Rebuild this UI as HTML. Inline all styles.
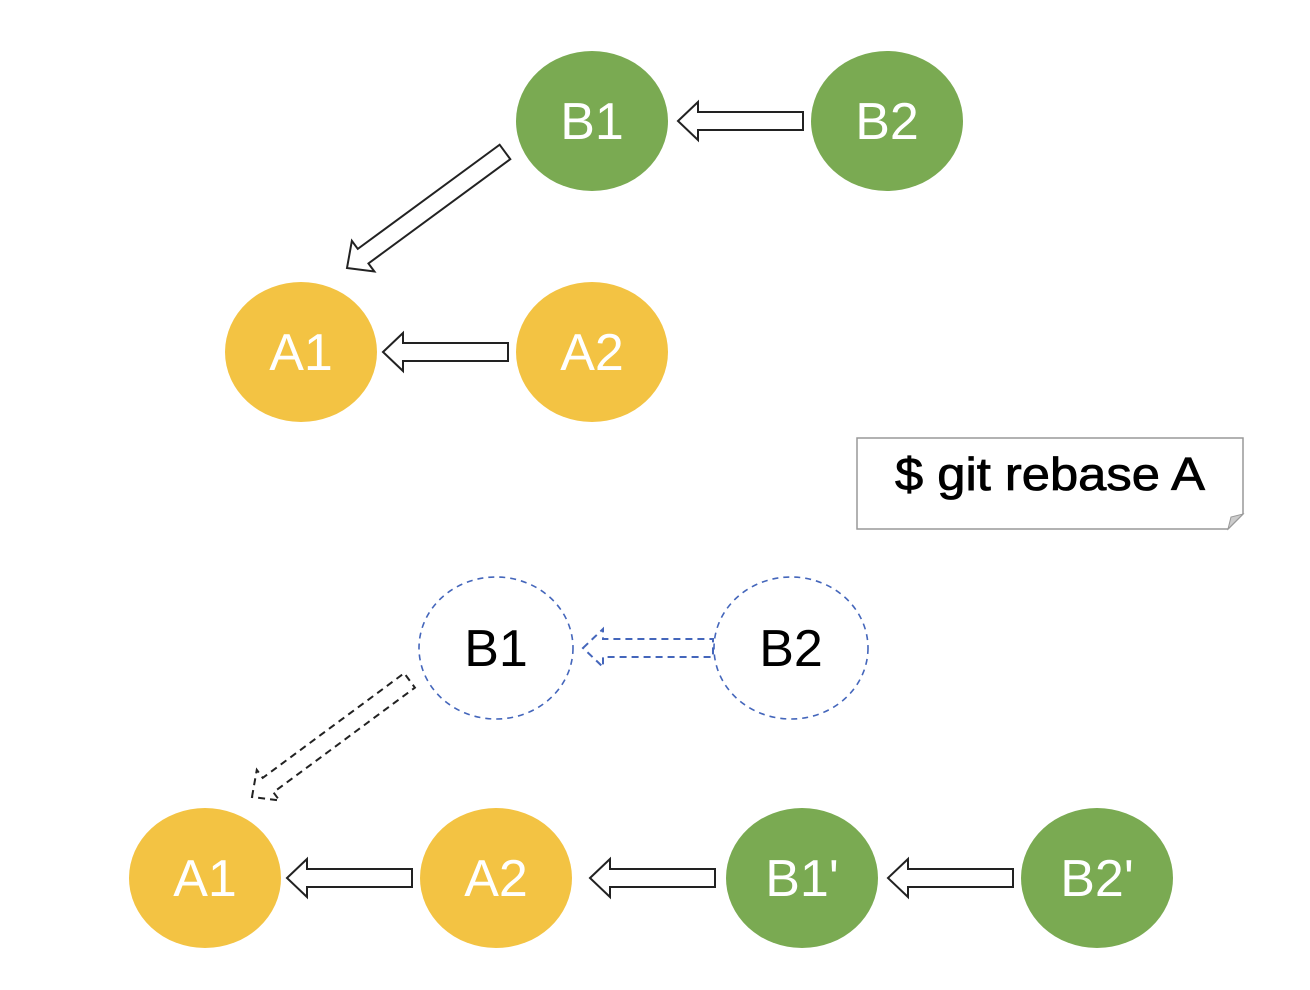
<!DOCTYPE html>
<html><head><meta charset="utf-8"><style>
html,body{margin:0;padding:0;background:#fff}
svg{display:block}
text{font-family:"Liberation Sans",sans-serif}
</style></head><body>
<svg width="1310" height="990" viewBox="0 0 1310 990" xmlns="http://www.w3.org/2000/svg">
<g fill="#fff" stroke="#222" stroke-width="2">
<polygon points="678,121 698,102 698,112 803,112 803,130 698,130 698,140"/>
<polygon points="383,352 403,333 403,343 508,343 508,361 403,361 403,371"/>
<g transform="translate(347,268) rotate(-36.3)"><polygon points="0,0 20,-19 20,-9 196,-9 196,9 20,9 20,19"/></g>
<polygon points="287,878 307,859 307,869 412,869 412,887 307,887 307,897"/>
<polygon points="590,878 610,859 610,869 715,869 715,887 610,887 610,897"/>
<polygon points="888,878 908,859 908,869 1013,869 1013,887 908,887 908,897"/>
<g transform="translate(252,797) rotate(-36.5)" stroke-dasharray="7,5"><polygon points="0,0 20,-19 20,-9 196,-9 196,9 20,9 20,19"/></g>
<polygon points="583,648 603,629 603,639 713,639 713,657 603,657 603,667" stroke="#4466bb" stroke-dasharray="7,5"/>
</g>
<ellipse cx="592" cy="121" rx="76" ry="70" fill="#7aaa52"/>
<ellipse cx="887" cy="121" rx="76" ry="70" fill="#7aaa52"/>
<ellipse cx="301" cy="352" rx="76" ry="70" fill="#f3c343"/>
<ellipse cx="592" cy="352" rx="76" ry="70" fill="#f3c343"/>
<ellipse cx="205" cy="878" rx="76" ry="70" fill="#f3c343"/>
<ellipse cx="496" cy="878" rx="76" ry="70" fill="#f3c343"/>
<ellipse cx="802" cy="878" rx="76" ry="70" fill="#7aaa52"/>
<ellipse cx="1097" cy="878" rx="76" ry="70" fill="#7aaa52"/>
<ellipse cx="496" cy="648" rx="77" ry="71" fill="#fff" stroke="#4466bb" stroke-width="1.6" stroke-dasharray="6,5"/>
<ellipse cx="791" cy="648" rx="77" ry="71" fill="#fff" stroke="#4466bb" stroke-width="1.6" stroke-dasharray="6,5"/>
<g font-size="52" text-anchor="middle" fill="#fff">
<text x="592" y="139">B1</text>
<text x="887" y="139">B2</text>
<text x="301" y="370">A1</text>
<text x="592" y="370">A2</text>
<text x="205" y="896">A1</text>
<text x="496" y="896">A2</text>
<text x="802" y="896">B1'</text>
<text x="1097" y="896">B2'</text>
<text x="496" y="666" fill="#000">B1</text>
<text x="791" y="666" fill="#000">B2</text>
</g>
<path d="M857,438 H1243 V514 L1228,529 H857 Z" fill="#fff" stroke="#999" stroke-width="1.5"/>
<path d="M1228,529 L1231,517 L1243,514 Z" fill="#ccc" stroke="#999" stroke-width="1"/>
<text x="895" y="490" font-size="46" fill="#000" stroke="#000" stroke-width="0.8" textLength="310" lengthAdjust="spacingAndGlyphs">$ git rebase A</text>
</svg>
</body></html>
